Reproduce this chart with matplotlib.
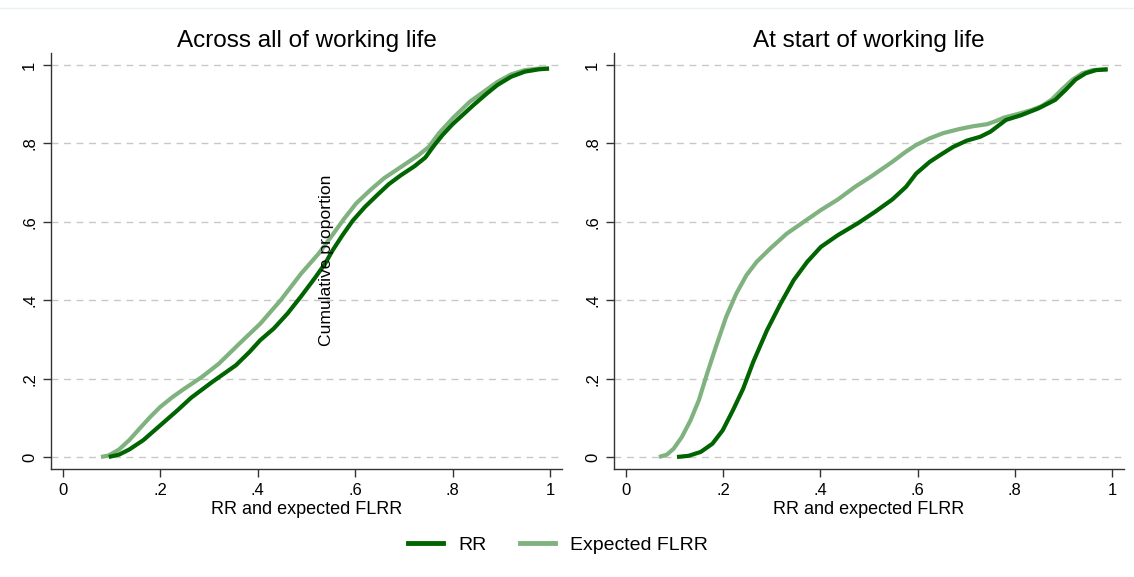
import matplotlib
matplotlib.use("Agg")
import matplotlib.pyplot as plt
from matplotlib.lines import Line2D

plt.rcParams['font.family'] = ['Liberation Sans', 'DejaVu Sans']

# cumulative distributions, across all of working life
all_flrr_x = [0.078, 0.094, 0.115, 0.136, 0.157, 0.179, 0.200, 0.225, 0.249, 0.285,
              0.320, 0.362, 0.405, 0.447, 0.489, 0.525, 0.553, 0.578, 0.602, 0.631,
              0.659, 0.694, 0.730, 0.751, 0.772, 0.800, 0.835, 0.864, 0.892, 0.920,
              0.948, 0.977, 0.998]
all_flrr_y = [0.000, 0.004, 0.019, 0.043, 0.072, 0.102, 0.128, 0.153, 0.174, 0.204,
              0.238, 0.289, 0.340, 0.400, 0.468, 0.519, 0.566, 0.609, 0.647, 0.681,
              0.711, 0.740, 0.770, 0.791, 0.826, 0.864, 0.906, 0.932, 0.957, 0.976,
              0.987, 0.991, 0.991]
all_rr_x = [0.094, 0.115, 0.136, 0.165, 0.200, 0.235, 0.263, 0.306, 0.355, 0.383,
            0.405, 0.433, 0.461, 0.489, 0.518, 0.539, 0.553, 0.574, 0.595, 0.620,
            0.645, 0.669, 0.694, 0.722, 0.744, 0.761, 0.779, 0.800, 0.843, 0.871,
            0.892, 0.920, 0.948, 0.977, 0.998]
all_rr_y = [0.000, 0.006, 0.019, 0.043, 0.081, 0.119, 0.151, 0.191, 0.234, 0.268,
            0.298, 0.328, 0.366, 0.410, 0.458, 0.495, 0.526, 0.566, 0.603, 0.638,
            0.668, 0.696, 0.719, 0.742, 0.764, 0.793, 0.821, 0.849, 0.898, 0.928,
            0.949, 0.970, 0.983, 0.989, 0.991]

# cumulative distributions, at start of working life
start_flrr_x = [0.068, 0.084, 0.098, 0.115, 0.133, 0.150, 0.167, 0.185, 0.206, 0.227,
                0.248, 0.269, 0.297, 0.331, 0.366, 0.401, 0.436, 0.471, 0.506, 0.548,
                0.576, 0.597, 0.625, 0.652, 0.687, 0.715, 0.743, 0.761, 0.778, 0.806,
                0.834, 0.855, 0.876, 0.897, 0.918, 0.939, 0.960, 0.991]
start_flrr_y = [0.000, 0.006, 0.021, 0.051, 0.094, 0.145, 0.213, 0.281, 0.357, 0.417,
                0.464, 0.498, 0.532, 0.570, 0.600, 0.630, 0.657, 0.689, 0.717, 0.753,
                0.779, 0.796, 0.813, 0.826, 0.837, 0.844, 0.849, 0.857, 0.866, 0.875,
                0.885, 0.895, 0.912, 0.938, 0.962, 0.979, 0.987, 0.989]
start_rr_x = [0.105, 0.129, 0.154, 0.178, 0.199, 0.220, 0.241, 0.262, 0.290, 0.318,
              0.345, 0.373, 0.401, 0.436, 0.478, 0.513, 0.548, 0.576, 0.597, 0.625,
              0.646, 0.673, 0.701, 0.729, 0.750, 0.768, 0.782, 0.813, 0.848, 0.883,
              0.904, 0.925, 0.946, 0.967, 0.991]
start_rr_y = [0.000, 0.003, 0.013, 0.034, 0.068, 0.119, 0.174, 0.243, 0.323, 0.391,
              0.451, 0.498, 0.536, 0.566, 0.597, 0.626, 0.657, 0.689, 0.723, 0.753,
              0.770, 0.791, 0.807, 0.817, 0.830, 0.847, 0.860, 0.872, 0.889, 0.911,
              0.936, 0.963, 0.979, 0.987, 0.989]

titles = ["Across all of working life", "At start of working life"]
ticks = [0, 0.2, 0.4, 0.6, 0.8, 1]
tick_labels = ["0", ".2", ".4", ".6", ".8", "1"]

dark = "#006400"
light = "#80b280"

fig = plt.figure(figsize=(11.34, 5.77), dpi=100)
fig.patch.set_facecolor("white")
fig.add_artist(Line2D([0, 1], [1 - 8 / 577, 1 - 8 / 577], color="#eaf1f1", lw=1.0))

ax1 = fig.add_axes([51 / 1134, 0.1872, 511 / 1134, 0.7209])
ax2 = fig.add_axes([614 / 1134, 0.1872, 510 / 1134, 0.7209])

panels = [
    (ax1, all_rr_x, all_rr_y, all_flrr_x, all_flrr_y),
    (ax2, start_rr_x, start_rr_y, start_flrr_x, start_flrr_y),
]

for (ax, rx, ry, fx, fy), title in zip(panels, titles):
    ax.plot(fx, fy, color=light, lw=3, solid_capstyle="butt",
            solid_joinstyle="round", zorder=3)
    ax.plot(rx, ry, color=dark, lw=3, solid_capstyle="butt",
            solid_joinstyle="round", zorder=4)
    ax.set_xlim(-0.0246, 1.0246)
    ax.set_ylim(-0.0306, 1.0306)
    ax.set_xticks(ticks)
    ax.set_xticklabels(tick_labels, fontsize=12)
    ax.set_yticks(ticks)
    ax.set_yticklabels(tick_labels, fontsize=12, rotation=90, va="center")
    ax.tick_params(length=6, width=1, color="#333333", pad=4)
    for y in ticks:
        ax.axhline(y, color="#c8c8c8", lw=1, ls=(0, (5, 4)), zorder=1)
    for side in ["top", "right"]:
        ax.spines[side].set_visible(False)
    for side in ["left", "bottom"]:
        ax.spines[side].set_color("#333333")
        ax.spines[side].set_linewidth(1)
    ax.set_title(title, fontsize=17.5, pad=4)
    ax.set_xlabel("RR and expected FLRR", fontsize=13, labelpad=2)

fig.text(327 / 1134, 1 - 260 / 577, "Cumulative proportion", rotation=90,
         ha="center", va="center", fontsize=12.6)

handles = [Line2D([], [], color=dark, lw=3.5), Line2D([], [], color=light, lw=3.5)]
fig.legend(handles, ["RR", "Expected FLRR"], loc="center", ncol=2,
           bbox_to_anchor=(0.492, 1 - 545 / 577), frameon=False, fontsize=14,
           handlelength=1.8, columnspacing=1.7, handletextpad=0.8)

fig.savefig("out.png", dpi=100)
